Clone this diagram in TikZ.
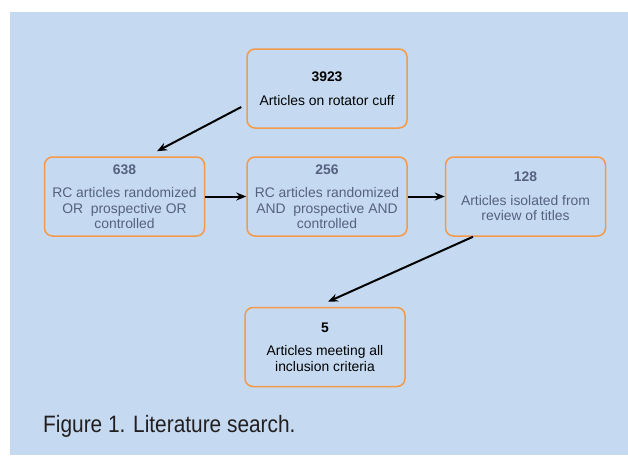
\documentclass[tikz,border=0pt]{standalone}
\usepackage{fontspec}
\setmainfont{Liberation Sans}
\newfontfamily\capfont[FakeStretch=0.88]{Liberation Sans}
\usetikzlibrary{arrows.meta}
\definecolor{bgblue}{RGB}{197,218,241}
\definecolor{boxorange}{RGB}{243,154,75}
\definecolor{greytext}{RGB}{86,97,128}
\definecolor{captext}{RGB}{35,31,32}

\begin{document}
\begin{tikzpicture}[
    x=1pt, y=-1pt,
    box/.style={draw=boxorange, line width=1.5pt, rounded corners=8pt,
                fill=bgblue, minimum width=160pt, minimum height=79pt,
                align=center, inner sep=0pt,
                font=\fontsize{13.9}{15.5}\selectfont},
    mid/.style={box, text=greytext},
    arr/.style={-{Stealth[length=10pt,width=8pt]}, line width=2pt, black}
]
\useasboundingbox (0,0) rectangle (628,455);
% fond
\fill[white] (0,0) rectangle (628,455);
\fill[bgblue] (10,12) rectangle (628,455);

% Haut
\node[box, text=black] (articles) at (327, 88.5)
    {\textbf{3923}\\[8pt]Articles on rotator cuff};

% Rangée du milieu
\node[mid] (rcor) at (124.5, 196.5)
    {\textbf{638}\\[8pt]RC articles randomized\\OR~~prospective OR\\controlled};
\node[mid] (rcand) at (327, 196.5)
    {\textbf{256}\\[8pt]RC articles randomized\\AND~~prospective AND\\controlled};
\node[mid] (titles) at (525.5, 196.5)
    {\textbf{128}\\[8pt]Articles isolated from\\review of titles};

% Bas
\node[box, text=black] (included) at (325, 347)
    {\textbf{5}\\[8pt]Articles meeting all\\inclusion criteria};

% Flèches
\draw[arr] ([shift={(-5pt,-18.5pt)}]articles.west) -- ([shift={(32.5pt,5pt)}]rcor.north);
\draw[arr] (rcor.east) -- (rcand.west);
\draw[arr] (rcand.east) -- (titles.west);
\draw[arr] ([xshift=-52.5pt]titles.south) -- ([shift={(3pt,5pt)}]included.north);

% Légende
\node[anchor=base west, inner sep=0pt, text=captext,
      font=\capfont\fontsize{23.7}{26}\selectfont] (caption) at (43, 432)
    {Figure 1. Literature search.};
\end{tikzpicture}
\end{document}
